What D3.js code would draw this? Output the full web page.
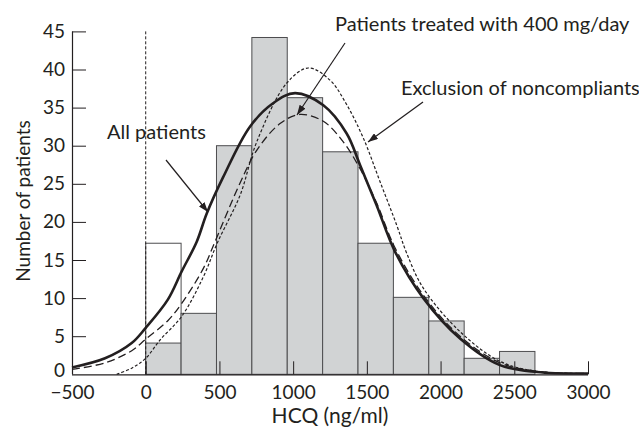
<!DOCTYPE html>
<html>
<head>
<meta charset="utf-8">
<script src="https://cdn.jsdelivr.net/npm/d3@7"></script>
<style>
    html, body { margin: 0; padding: 0; background: #fff; }
    svg { display: block; }
</style>
</head>
<body>
<div id="chart"></div>
<script>
/**
 * Histogram bins (ng/ml), 240 wide
 */
const binEdges = [0, 240, 480, 720, 960, 1200, 1440, 1680, 1920, 2160, 2400, 2640];

/**
 * Counts per bin: all patients (open bar) and compliant patients (grey bar)
 */
const countsAll = [17.2, 8, 30, 44.2, 36.3, 29.2, 17.2, 10.1, 7, 2.1, 3];
const countsCompliant = [4.1, 8, 30, 44.2, 36.3, 29.2, 17.2, 10.1, 7, 2.1, 3];

/**
 * Fitted curves as [HCQ, patients]
 */
const curveAllPatients = [
    [-500, 0.9], [-276, 2.1], [-95, 4.1], [0, 6.1], [150, 9.8], [244, 13.5],
    [346, 17.4], [414, 21.1], [526, 25.9], [707, 32.5], [866, 35.6], [1013, 36.9],
    [1205, 35.3], [1363, 31.6], [1453, 27.5], [1566, 22.2], [1691, 16.1],
    [1883, 10.0], [2132, 4.7], [2403, 1.2], [2652, 0.3], [3000, 0.1],
];
const curve400mg = [
    [-500, 0.65], [-276, 1.5], [-95, 3.1], [0, 4.6], [153, 7.1], [244, 9.3],
    [391, 13.9], [470, 17.4], [640, 25.1], [753, 29.4], [911, 32.9], [1045, 34.1],
    [1205, 33.2], [1340, 30.5], [1453, 27.0], [1566, 22.5], [1691, 16.6],
    [1883, 10.4], [2132, 5.0], [2403, 1.5], [2652, 0.4], [3000, 0.1],
];
const curveNoncompliantsExcluded = [
    [-197, 0], [-95, 0.8], [0, 2.1], [97, 4.5], [244, 7.6], [391, 12.8],
    [487, 17.3], [640, 23.5], [753, 30.5], [956, 38.2], [1103, 40.2],
    [1250, 38.6], [1363, 35.4], [1476, 31.0], [1589, 25.3], [1702, 19.6],
    [1770, 15.9], [1883, 11.3], [2132, 5.6], [2403, 1.7], [2652, 0.4], [3000, 0.1],
];

const xTicks = [-500, 0, 500, 1000, 1500, 2000, 2500, 3000];
const yTicks = [0, 5, 10, 15, 20, 25, 30, 35, 40, 45];

const width = 639;
const height = 427;
const fontFamily = "Lato, 'Open Sans', sans-serif";
const ink = "#231f20";

const x = d3.scaleLinear().domain([-500, 3000]).range([72, 588]);
const y = d3.scaleLinear().domain([0, 45]).range([374.3, 31.4]);

const svg = d3
    .create("svg")
    .attr("width", width)
    .attr("height", height)
    .attr("font-family", fontFamily)
    .attr("fill", ink);

svg.append("defs").html(`
    <marker id="arrow" viewBox="0 0 10 7" refX="10" refY="3.5"
        markerWidth="10" markerHeight="7" markerUnits="userSpaceOnUse" orient="auto">
        <path d="M0,0 L10,3.5 L0,7 z" fill="${ink}"/>
    </marker>
`);

// Bars: open bars for all patients, grey bars on top for compliant patients
const bins = countsAll.map((d, i) => ({
    x0: binEdges[i],
    x1: binEdges[i + 1],
    all: d,
    compliant: countsCompliant[i],
}));

svg.append("g")
    .selectAll("rect")
    .data(bins.filter((d) => d.all > d.compliant))
    .join("rect")
    .attr("x", (d) => x(d.x0))
    .attr("y", (d) => y(d.all))
    .attr("width", (d) => x(d.x1) - x(d.x0))
    .attr("height", (d) => y(0) - y(d.all))
    .attr("fill", "#fff")
    .attr("stroke", "#4d4d4f")
    .attr("stroke-width", 1);

svg.append("g")
    .selectAll("rect")
    .data(bins)
    .join("rect")
    .attr("x", (d) => x(d.x0))
    .attr("y", (d) => y(d.compliant))
    .attr("width", (d) => x(d.x1) - x(d.x0))
    .attr("height", (d) => y(0) - y(d.compliant))
    .attr("fill", "#d1d3d4")
    .attr("stroke", "#4d4d4f")
    .attr("stroke-width", 1);

// Dashed reference line at zero
svg.append("line")
    .attr("x1", x(0))
    .attr("x2", x(0))
    .attr("y1", y(0))
    .attr("y2", y(45))
    .attr("stroke", ink)
    .attr("stroke-width", 1)
    .attr("stroke-dasharray", "3,2");

// Axes, ticks pointing inwards
const xAxis = d3.axisBottom(x).tickValues(xTicks).tickSize(-13).tickPadding(11)
    .tickFormat((d) => (d < 0 ? "\u2212" + Math.abs(d) : d));
const yAxis = d3.axisLeft(y).tickValues(yTicks).tickSize(-14).tickPadding(7);

const gx = svg.append("g").attr("transform", `translate(0,${y(0)})`).call(xAxis);
const gy = svg.append("g").attr("transform", `translate(${x(-500)},0)`).call(yAxis);

[gx, gy].forEach((g) => {
    g.select(".domain").attr("stroke", ink).attr("stroke-width", 1.2);
    g.selectAll(".tick line").attr("stroke", ink).attr("stroke-width", 1);
    g.selectAll(".tick text")
        .attr("fill", ink)
        .attr("font-size", 19)
        .attr("font-family", fontFamily);
});
gy.select(".domain").attr("d", `M0.5,${y(0)}V${y(45)}`);
gx.select(".domain").attr("d", `M${x(-500)},0.5H${x(3000)}`);

// The zero label sits just above the x tick labels
const yZero = gy.selectAll(".tick").filter((d) => d === 0);
yZero.select("line").remove();
yZero.select("text").attr("dy", "0.1em");

// Fitted curves
const line = d3
    .line()
    .x((d) => x(d[0]))
    .y((d) => y(d[1]))
    .curve(d3.curveCatmullRom.alpha(0.5));

svg.append("path")
    .attr("d", line(curveNoncompliantsExcluded))
    .attr("fill", "none")
    .attr("stroke", ink)
    .attr("stroke-width", 1.2)
    .attr("stroke-dasharray", "3,2");

svg.append("path")
    .attr("d", line(curve400mg))
    .attr("fill", "none")
    .attr("stroke", ink)
    .attr("stroke-width", 1.3)
    .attr("stroke-dasharray", "8,4");

svg.append("path")
    .attr("d", line(curveAllPatients))
    .attr("fill", "none")
    .attr("stroke", ink)
    .attr("stroke-width", 2.6);

// Annotations with arrows
const annotations = [
    { text: "All patients", tx: 107, ty: 139, from: [166, 160], to: [208, 212] },
    { text: "Patients treated with 400 mg/day", tx: 335, ty: 31, from: [345, 43], to: [297, 115] },
    { text: "Exclusion of noncompliants", tx: 401, ty: 95, from: [423, 102], to: [368, 142] },
];

svg.append("g")
    .selectAll("line")
    .data(annotations)
    .join("line")
    .attr("x1", (d) => d.from[0])
    .attr("y1", (d) => d.from[1])
    .attr("x2", (d) => d.to[0])
    .attr("y2", (d) => d.to[1])
    .attr("stroke", ink)
    .attr("stroke-width", 1.2)
    .attr("marker-end", "url(#arrow)");

svg.append("g")
    .selectAll("text")
    .data(annotations)
    .join("text")
    .attr("x", (d) => d.tx)
    .attr("y", (d) => d.ty)
    .attr("font-size", 20)
    .text((d) => d.text);

// Axis titles
svg.append("text")
    .attr("x", 330)
    .attr("y", 423)
    .attr("text-anchor", "middle")
    .attr("font-size", 21)
    .text("HCQ (ng/ml)");

svg.append("text")
    .attr("transform", "translate(30,201) rotate(-90)")
    .attr("text-anchor", "middle")
    .attr("font-size", 19)
    .text("Number of patients");

document.getElementById("chart").appendChild(svg.node());
</script>
</body>
</html>
